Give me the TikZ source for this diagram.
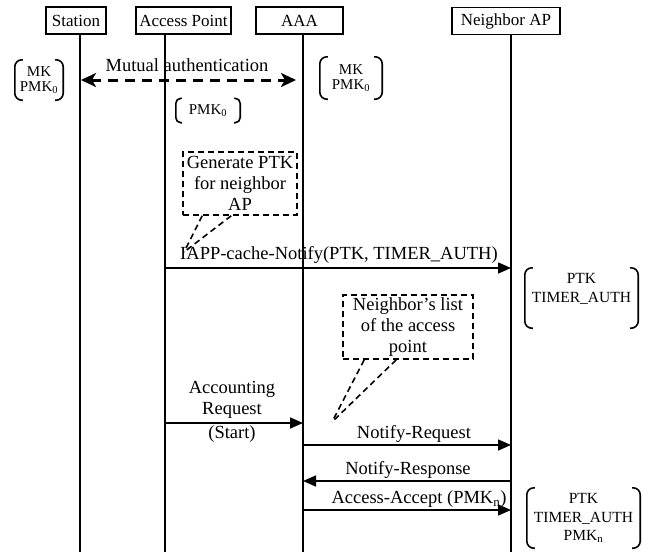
\documentclass[tikz,border=0pt]{standalone}
\usepackage{fontspec}
\setmainfont{Liberation Serif}
\usetikzlibrary{arrows.meta}
\tikzset{
  hdr/.style={draw, line width=1.7pt, minimum height=27pt, inner sep=0pt, font=\fontsize{17}{19}\selectfont},
  life/.style={line width=1.7pt},
  msg/.style={line width=1.6pt, -{Triangle[length=13pt,width=11pt]}},
  lbl/.style={inner sep=0pt, align=center, font=\fontsize{18.5}{21}\selectfont},
  brtxt/.style={inner sep=0pt, align=center, font=\fontsize{15.5}{18.5}\selectfont},
  brsmall/.style={inner sep=0pt, align=center, font=\fontsize{15}{15.5}\selectfont},
  br/.style={line width=1.6pt, rounded corners=7pt},
  dbox/.style={draw, line width=1.6pt, dash pattern=on 6pt off 4pt},
  tail/.style={line width=1.6pt, dash pattern=on 6pt off 4pt},
}
\begin{document}
\begin{tikzpicture}[x=1pt,y=-1pt]
\useasboundingbox (0,0) rectangle (650,552);
% headers
\node[hdr, minimum width=60pt] (st) at (76,20.5) {Station};
\node[hdr, minimum width=95pt] (ap) at (183.5,20.5) {Access Point};
\node[hdr, minimum width=87pt] (aaa) at (299.5,20.5) {AAA};
\node[hdr, minimum width=108pt] (nap) at (506,21) {Neighbor AP};
% lifelines
\coordinate (stT) at (80,34); \coordinate (stB) at (80,552);
\coordinate (apT) at (165,34); \coordinate (apB) at (165,552);
\coordinate (aaaT) at (303,34); \coordinate (aaaB) at (303,552);
\coordinate (napT) at (511,35); \coordinate (napB) at (511,552);
\draw[life] (stT) -- (stB);
\draw[life] (apT) -- (apB);
\draw[life] (aaaT) -- (aaaB);
\draw[life] (napT) -- (napB);
% mutual authentication
\coordinate (ma1) at (81,80); \coordinate (ma2) at (296,80);
\draw[line width=3pt, dash pattern=on 10pt off 7pt, {Stealth[length=15pt,width=14pt,inset=4pt]}-{Stealth[length=15pt,width=14pt,inset=4pt]}] (ma1) -- (ma2);
\node[lbl] (malbl) at (187,65) {Mutual authentication};
% brackets MK PMK0
\node[brsmall, minimum width=48pt, minimum height=40pt] (b1) at (39,80) {MK\\PMK\textsubscript{0}};
\draw[br] ([xshift=8pt]b1.north west) -- (b1.north west) -- (b1.south west) -- ([xshift=8pt]b1.south west);
\draw[br] ([xshift=-8pt]b1.north east) -- (b1.north east) -- (b1.south east) -- ([xshift=-8pt]b1.south east);
\node[brsmall, minimum width=62pt, minimum height=42pt] (b2) at (351,78) {MK\\PMK\textsubscript{0}};
\draw[br] ([xshift=8pt]b2.north west) -- (b2.north west) -- (b2.south west) -- ([xshift=8pt]b2.south west);
\draw[br] ([xshift=-8pt]b2.north east) -- (b2.north east) -- (b2.south east) -- ([xshift=-8pt]b2.south east);
\node[brsmall, minimum width=64pt, minimum height=24pt] (b3) at (208,110.5) {PMK\textsubscript{0}};
\draw[br, rounded corners=5pt] ([xshift=6pt]b3.north west) -- (b3.north west) -- (b3.south west) -- ([xshift=6pt]b3.south west);
\draw[br, rounded corners=5pt] ([xshift=-6pt]b3.north east) -- (b3.north east) -- (b3.south east) -- ([xshift=-6pt]b3.south east);
% Generate PTK callout
\node[dbox, lbl, minimum width=114pt, minimum height=63pt] (gen) at (240,183.5) {Generate PTK\\for neighbor\\AP};
\coordinate (genTip) at (184,252);
\draw[tail] ([xshift=20pt]gen.south west) -- (genTip);
\draw[tail] ([xshift=49pt]gen.south west) -- (genTip);
% IAPP message
\coordinate (m1a) at (165,268); \coordinate (m1b) at (511,268);
\draw[msg] (m1a) -- (m1b);
\node[lbl] (m1lbl) at (339,255) {IAPP-cache-Notify(PTK, TIMER\_AUTH)};
% PTK TIMER_AUTH bracket
\node[brtxt, minimum width=113pt, minimum height=60pt, text depth=20pt] (b4) at (581.5,298) {PTK\\TIMER\_AUTH};
\draw[br] ([xshift=8pt]b4.north west) -- (b4.north west) -- (b4.south west) -- ([xshift=8pt]b4.south west);
\draw[br] ([xshift=-8pt]b4.north east) -- (b4.north east) -- (b4.south east) -- ([xshift=-8pt]b4.south east);
% Neighbor's list callout
\node[dbox, lbl, minimum width=130pt, minimum height=64pt] (nl) at (408,327) {Neighbor’s list\\of the access\\point};
\coordinate (nlTip) at (332,422);
\draw[tail] ([xshift=22pt]nl.south west) -- (nlTip);
\draw[tail] ([xshift=54pt]nl.south west) -- (nlTip);
% Accounting request
\coordinate (m2a) at (165,423); \coordinate (m2b) at (303,423);
\draw[msg] (m2a) -- (m2b);
\node[lbl] (m2lbl) at (232,400) {Accounting\\Request};
\node[lbl] (m2lbl2) at (232,434) {(Start)};
% Notify-Request
\coordinate (m3a) at (303,445); \coordinate (m3b) at (511,445);
\draw[msg] (m3a) -- (m3b);
\node[lbl] (m3lbl) at (414,434) {Notify-Request};
% Notify-Response
\coordinate (m4a) at (511,481); \coordinate (m4b) at (303,481);
\draw[msg] (m4a) -- (m4b);
\node[lbl] (m4lbl) at (408,470) {Notify-Response};
% Access-Accept
\coordinate (m5a) at (303,510); \coordinate (m5b) at (511,510);
\draw[msg] (m5a) -- (m5b);
\node[lbl] (m5lbl) at (419,499) {Access-Accept (PMK\textsubscript{n})};
% final bracket
\node[brtxt, minimum width=113pt, minimum height=60pt] (b5) at (583.5,518) {PTK\\TIMER\_AUTH\\PMK\textsubscript{n}};
\draw[br] ([xshift=8pt]b5.north west) -- (b5.north west) -- (b5.south west) -- ([xshift=8pt]b5.south west);
\draw[br] ([xshift=-8pt]b5.north east) -- (b5.north east) -- (b5.south east) -- ([xshift=-8pt]b5.south east);
\end{tikzpicture}
\end{document}
